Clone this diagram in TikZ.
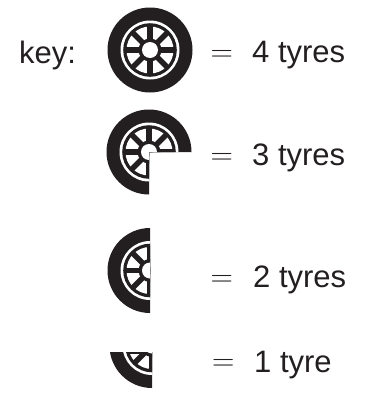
\RequirePackage{fix-cm}
\documentclass[tikz,border=0pt]{standalone}
\usepackage{fontspec}
\setmainfont{Liberation Sans}
\definecolor{ink}{RGB}{35,31,32}
\tikzset{
 lab/.style={anchor=base west,font=\fontsize{31pt}{32pt}\selectfont,text=ink,inner sep=0pt},
 eqsign/.style={anchor=base west,font=\fontsize{31pt}{32pt}\selectfont,text=ink,inner sep=0pt}
}
\newcommand{\tyre}[3]{% cx, cy, clip path
 \begin{scope}[shift={(#1,#2)}]
  \clip #3;
  \fill[ink] (0,0) circle (42.5);
  \fill[white] (0,0) circle (29.5);
  \fill[ink] (0,0) circle (26.8);
  \fill[white] (0,0) circle (23.5);
  \foreach \a in {0,45,...,315}{\draw[ink,line width=5.4pt] (0,0) -- (\a:25);}
  \fill[ink] (0,0) circle (11.5);
  \fill[white] (0,0) circle (8);
 \end{scope}}
\begin{document}
\begin{tikzpicture}[x=1pt,y=1pt,yscale=-1]
\useasboundingbox (0,0) rectangle (365,394);
\tyre{150}{50}{(-50,-50) rectangle (50,50)}
\tyre{149}{152}{(-50,-50) -- (50,-50) -- (50,0) -- (0,0) -- (0,50) -- (-50,50) -- cycle}
\tyre{150}{270.5}{(-50,-50) rectangle (0,50)}
\tyre{152}{345.5}{(-50,6.5) rectangle (0,50)}
\fill[ink] (127,352) rectangle (146,354);
\node[lab] (key) at (19,63) {key:};
\node[eqsign] (e4) at (210.3,61) {$=$};
\node[lab] (t4) at (252,62) {4 tyres};
\node[eqsign] (e3) at (210.3,164) {$=$};
\node[lab] (t3) at (252,165) {3 tyres};
\node[eqsign] (e2) at (210.3,286) {$=$};
\node[lab] (t2) at (253,287) {2 tyres};
\node[eqsign] (e1) at (212,370.5) {$=$};
\node[lab] (t1) at (254,372) {1 tyre};
\end{tikzpicture}
\end{document}
